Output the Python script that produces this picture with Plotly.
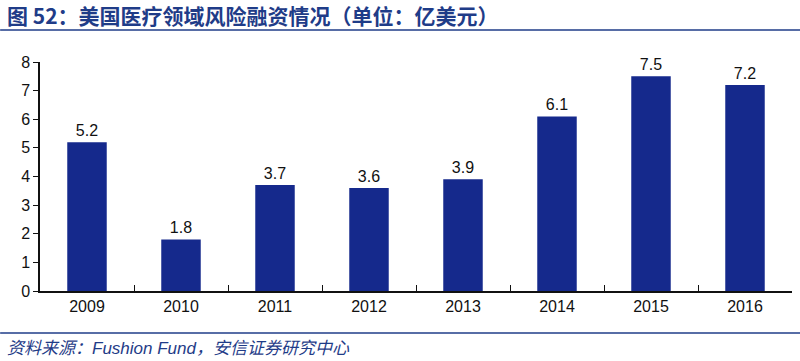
import plotly.graph_objects as go

years = ["2009", "2010", "2011", "2012", "2013", "2014", "2015", "2016"]
values = [5.2, 1.8, 3.7, 3.6, 3.9, 6.1, 7.5, 7.2]
labels = ["5.2", "1.8", "3.7", "3.6", "3.9", "6.1", "7.5", "7.2"]
y_ticks = [0, 1, 2, 3, 4, 5, 6, 7, 8]

title_text = "图 52：美国医疗领域风险融资情况（单位：亿美元）"
source_text = "资料来源：Fushion Fund，安信证券研究中心"

fig = go.Figure()
fig.add_trace(go.Bar(
    x=years, y=values, text=labels, textposition="outside",
    textfont=dict(size=16, color="#111111", family="Liberation Sans, Arial"),
    marker=dict(color="#15298C", line=dict(width=0)),
    cliponaxis=False,
))

fig.update_layout(
    width=800, height=361,
    margin=dict(l=40, r=8, t=62, b=70, autoexpand=False),
    plot_bgcolor="white", paper_bgcolor="white",
    bargap=0.58, showlegend=False,
    font=dict(family="Liberation Sans, Arial", size=16, color="#111111"),
    xaxis=dict(showline=True, linecolor="#111111", linewidth=1.5,
               ticks="inside", ticklen=6, tickcolor="#111111",
               tickson="boundaries", showgrid=False, automargin=False,
               tickfont=dict(size=16)),
    yaxis=dict(range=[0, 8], tickvals=y_ticks, showline=True,
               linecolor="#111111", linewidth=1.5, ticks="outside",
               ticklen=5, tickcolor="#111111", showgrid=False,
               zeroline=False, automargin=False, tickfont=dict(size=16)),
    shapes=[
        dict(type="line", xref="paper", yref="paper", x0=-0.053, x1=1.011,
             y0=1.14, y1=1.14, line=dict(color="#1F3C88", width=1.5)),
        dict(type="line", xref="paper", yref="paper", x0=-0.053, x1=1.011,
             y0=-0.183, y1=-0.183, line=dict(color="#1F3C88", width=1.5)),
    ],
    annotations=[
        dict(text="<b>" + title_text + "</b>", xref="paper", yref="paper",
             x=-0.047, y=1.205, xanchor="left", yanchor="middle", showarrow=False,
             font=dict(size=21, color="#1F3C88",
                       family="Noto Sans CJK SC, Liberation Sans")),
        dict(text="<i>" + source_text + "</i>", xref="paper", yref="paper",
             x=-0.047, y=-0.25, xanchor="left", yanchor="middle", showarrow=False,
             font=dict(size=17, color="#1F3C88",
                       family="Liberation Sans, Noto Sans CJK SC")),
    ],
)

fig.write_html("out.html", config={"displayModeBar": False},
               post_script="document.body.style.margin='0';")
